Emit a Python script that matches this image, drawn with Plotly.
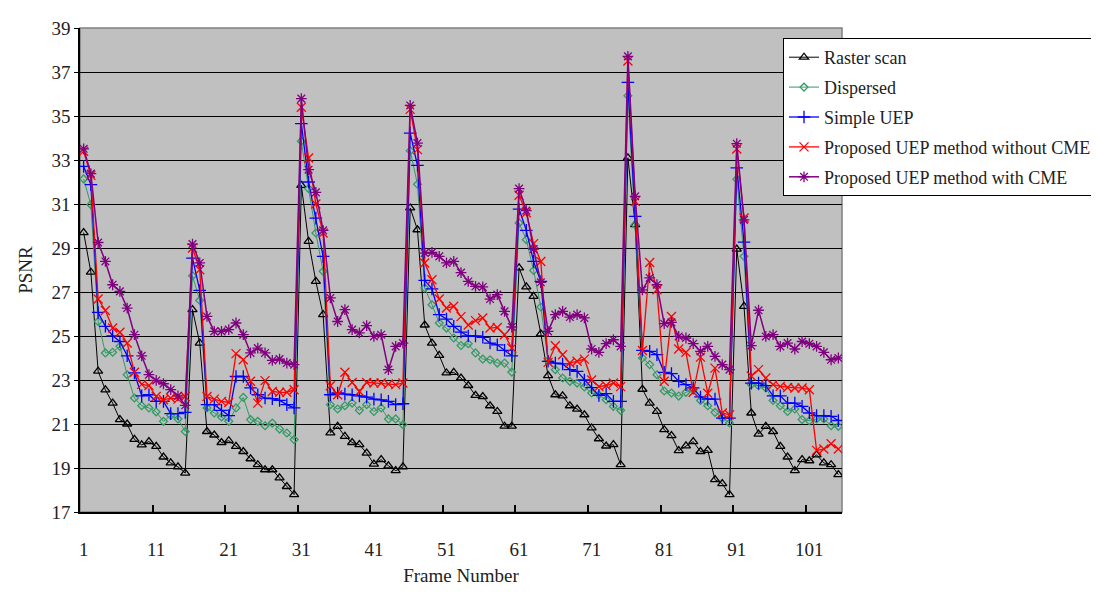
import plotly.graph_objects as go

frames = list(range(1, 106))

raster = [29.7, 27.9, 23.4, 22.55, 21.95, 21.2, 21.0, 20.3, 20.05, 20.2,
          19.98, 19.5, 19.23, 19.05, 18.77,
          26.2, 24.68, 20.66, 20.5, 20.16, 20.24, 19.98, 19.75, 19.42, 19.15,
          18.92, 18.92, 18.55, 18.16, 17.79,
          31.85, 29.3, 27.48, 25.97, 20.6, 20.89, 20.44, 20.16, 20.06, 19.68,
          19.18, 19.38, 19.1, 18.88, 19.05,
          30.82, 29.83, 25.5, 24.68, 24.12, 23.32, 23.35, 23.09, 22.75, 22.3,
          22.25, 21.83, 21.57, 20.9, 20.9,
          28.1, 27.23, 26.8, 25.1, 23.2, 22.33, 22.28, 21.83, 21.68, 21.42,
          20.82, 20.33, 20.0, 20.06, 19.15,
          33.1, 30.06, 22.58, 21.95, 21.57, 20.74, 20.47, 19.79, 20.01, 20.2,
          19.75, 19.8, 18.47, 18.29, 17.79,
          28.95, 26.35, 21.5, 20.54, 20.89, 20.66, 19.98, 19.5, 18.88, 19.38,
          19.33, 19.6, 19.23, 19.15, 18.7]

dispersed = [32.14, 30.97, 25.66, 24.23, 24.26, 24.53, 23.24, 22.18, 21.83, 21.73,
             21.55, 21.12, 21.39, 21.23, 20.66,
             27.74, 26.62, 21.73, 21.5, 21.32, 21.12, 21.73, 22.21, 21.2, 21.12,
             20.92, 21.04, 20.77, 20.59, 20.29,
             33.85, 31.7, 29.68, 27.94, 21.88, 21.68, 21.83, 21.95, 21.62, 21.88,
             21.57, 21.73, 21.23, 21.23, 20.97,
             33.42, 31.9, 27.18, 26.42, 25.59, 25.36, 24.91, 24.57, 24.65, 24.23,
             23.95, 23.92, 23.77, 23.77, 23.36,
             30.14, 29.38, 27.98, 26.32, 23.89, 23.47, 23.09, 22.94, 22.86, 22.68,
             22.41, 22.33, 22.1, 21.8, 21.62,
             35.92, 30.06, 24.0, 23.7, 23.24, 22.5, 22.41, 22.27, 22.44, 22.56,
             22.07, 21.83, 21.53, 21.27, 21.05,
             32.13, 28.62, 22.79, 22.74, 22.64, 22.07, 21.83, 21.57, 21.68, 21.2,
             21.15, 21.23, 21.23, 20.92, 20.89]

simple_uep = [32.71, 31.88, 26.07, 25.44, 25.01, 24.75, 24.1, 23.32, 22.28, 22.33,
              22.03, 22.03, 21.47, 21.47, 21.53,
              28.54, 27.07, 21.88, 21.88, 21.62, 21.38, 23.16, 23.16, 22.64, 22.33,
              22.18, 22.15, 22.07, 21.88, 21.73,
              34.65, 32.0, 30.36, 28.62, 22.33, 22.41, 22.36, 22.33, 22.28, 22.22,
              22.13, 22.1, 22.03, 21.88, 21.92,
              34.22, 32.76, 27.53, 27.14, 25.97, 25.77, 25.44, 25.18, 25.0, 25.0,
              24.94, 24.68, 24.6, 24.35, 24.1,
              30.77, 29.8, 28.39, 27.48, 23.85, 23.77, 23.73, 23.47, 23.39, 23.0,
              22.65, 22.3, 22.38, 22.03, 22.03,
              36.53, 30.44, 24.35, 24.3, 24.15, 23.35, 23.29, 22.94, 22.79, 22.64,
              22.23, 22.13, 22.13, 21.27, 21.27,
              32.64, 29.27, 22.86, 22.86, 22.74, 22.28, 22.28, 21.95, 21.95, 21.8,
              21.5, 21.38, 21.38, 21.35, 21.16]

uep_no_cme = [33.4, 32.3, 26.68, 26.16, 25.36, 25.17, 24.68, 23.35, 22.8, 22.75,
              22.25, 22.1, 22.18, 22.13, 22.25,
              29.0, 28.01, 22.25, 22.13, 22.03, 21.98, 24.2, 23.92, 22.94, 21.95,
              22.97, 22.48, 22.44, 22.44, 22.56,
              35.4, 33.09, 31.0, 29.68, 22.74, 22.33, 23.35, 22.89, 22.48, 22.89,
              22.86, 22.86, 22.82, 22.79, 22.86,
              35.3, 33.47, 28.32, 27.56, 26.68, 26.27, 26.35, 25.88, 25.5, 25.7,
              25.82, 25.36, 25.39, 25.06, 24.45,
              31.4, 30.6, 29.2, 28.39, 23.8, 24.56, 24.15, 23.77, 23.85, 23.95,
              23.0, 22.7, 22.75, 22.86, 22.7,
              37.5, 31.12, 24.34, 28.34, 27.1, 22.94, 25.89, 24.41, 24.26, 22.44,
              24.04, 22.4, 23.54, 21.5, 21.42,
              33.5, 30.36, 23.18, 23.47, 23.09, 22.79, 22.71, 22.66, 22.64, 22.64,
              22.56, 19.8, 19.86, 20.1, 19.86]

uep_cme = [33.51, 32.38, 29.25, 28.39, 27.33, 27.03, 26.27, 25.06, 24.1, 23.24,
           22.98, 22.83, 22.56, 22.28, 21.85,
           29.18, 28.32, 25.89, 25.21, 25.21, 25.29, 25.59, 25.06, 24.23, 24.45,
           24.23, 23.89, 23.95, 23.77, 23.7,
           35.79, 32.56, 31.53, 29.8, 26.73, 25.66, 26.2, 25.29, 25.14, 25.47,
           24.98, 25.06, 23.47, 24.53, 24.68,
           35.48, 33.77, 28.77, 28.8, 28.62, 28.32, 28.39, 27.88, 27.48, 27.26,
           27.23, 26.68, 26.88, 26.12, 25.41,
           31.7, 30.7, 28.95, 27.44, 25.21, 25.97, 26.12, 25.86, 25.97, 25.82,
           24.41, 24.26, 24.65, 24.83, 24.53,
           37.71, 31.35, 27.1, 27.64, 27.33, 25.56, 25.62, 24.98, 24.91, 24.65,
           24.3, 24.53, 24.07, 23.7, 23.47,
           33.74, 30.28, 24.56, 26.17, 24.98, 25.06, 24.53, 24.68, 24.41, 24.75,
           24.65, 24.53, 24.26, 23.92, 24.0]

x_tick_vals = [1, 11, 21, 31, 41, 51, 61, 71, 81, 91, 101]
x_tick_text = [str(v) for v in x_tick_vals]
y_tick_vals = list(range(17, 40, 2))

series = [
    ("Raster scan", raster, "#000000", "triangle-up-open", 8, 1),
    ("Dispersed", dispersed, "#339966", "diamond-open", 6, 1),
    ("Simple UEP", simple_uep, "#0000FF", "cross-thin-open", 9, 1.3),
    ("Proposed UEP method without CME", uep_no_cme, "#FF0000", "x-thin-open", 9, 1.3),
    ("Proposed UEP method with CME", uep_cme, "#800080", "asterisk-open", 9, 1.5),
]

fig = go.Figure()
for i, (name, vals, color, sym, size, lw) in enumerate(series):
    fig.add_trace(go.Scatter(
        x=frames, y=vals, mode="lines+markers", name=name,
        legendgroup="g%d" % i,
        line=dict(color=color, width=lw),
        marker=dict(symbol=sym, size=size, color=color,
                    line=dict(color=color, width=1.3)),
    ))

font_family = "Liberation Serif, Times New Roman, serif"

# page body adds an 8px offset, so the figure is sized/margined to compensate
W, H = 1091, 589
ML, MT = 72, 20
PW, PH = 762, 484

fig.update_layout(
    width=W, height=H,
    margin=dict(l=ML, r=W - ML - PW, t=MT, b=H - MT - PH, autoexpand=False),
    paper_bgcolor="white",
    plot_bgcolor="#C0C0C0",
    font=dict(family=font_family, size=18, color="#000000"),
    showlegend=True,
    legend=dict(
        x=(783 - 80) / PW, y=(512 - 38) / PH, xanchor="left", yanchor="top",
        bgcolor="white", bordercolor="black", borderwidth=1,
        font=dict(family=font_family, size=18, color="#222222"),
        tracegroupgap=3.5,
    ),
    xaxis=dict(
        range=[0.5, 105.5],
        tickmode="array", tickvals=x_tick_vals, ticktext=x_tick_text,
        ticks="", showgrid=False, zeroline=False,
        showline=True, linecolor="black", linewidth=1.5,
        ticklabelstandoff=19,
        tickfont=dict(family=font_family, size=19, color="#222222"),
        title=dict(text="Frame Number", standoff=10,
                   font=dict(family=font_family, size=19, color="#222222")),
        minor=dict(tickmode="array",
                   tickvals=[10.5, 20.5, 30.5, 40.5, 50.5, 60.5, 70.5, 80.5, 90.5, 100.5],
                   ticks="inside", ticklen=7, tickcolor="black", tickwidth=1.5,
                   showgrid=False),
    ),
    yaxis=dict(
        range=[17, 39],
        tickmode="array", tickvals=y_tick_vals,
        ticks="outside", ticklen=4, tickcolor="black",
        showgrid=True, gridcolor="#000000", gridwidth=1,
        zeroline=False,
        showline=True, linecolor="black", linewidth=1.5,
        tickfont=dict(family=font_family, size=19, color="#222222"),
        title=dict(text="PSNR", standoff=14,
                   font=dict(family=font_family, size=19, color="#222222")),
    ),
)

# plot area border (top / right)
fig.add_shape(type="rect", xref="paper", yref="paper", x0=0, y0=0, x1=1, y1=1,
              line=dict(color="#808080", width=1.5), layer="below")

fig.write_html("out.html")
